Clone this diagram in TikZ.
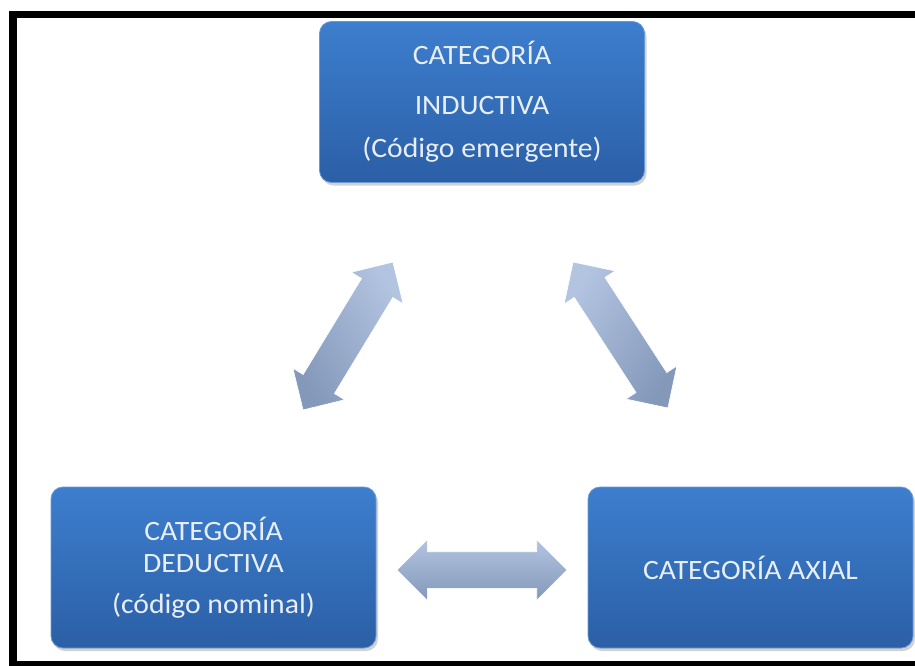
\documentclass[tikz,border=0pt]{standalone}
\usepackage{fontspec}
\setmainfont{Carlito}[FakeStretch=1.06]
\usetikzlibrary{shapes.arrows,shadows,calc}

\definecolor{boxtop}{HTML}{3D7ECE}
\definecolor{boxbot}{HTML}{2B5FA6}
\definecolor{boxedge}{HTML}{6A9AD6}
\definecolor{boxtext}{HTML}{E8EEF6}
\definecolor{arrtop}{HTML}{B2C4E0}
\definecolor{arrbot}{HTML}{8498BA}

\tikzset{
  catbox/.style={rounded corners=12pt, top color=boxtop, bottom color=boxbot,
    draw=boxedge, line width=0.8pt, text=boxtext, align=center,
    minimum width=325pt, minimum height=161pt, inner sep=0pt,
    font=\fontsize{28}{34}\selectfont,
    drop shadow={shadow xshift=2pt, shadow yshift=-3pt, opacity=0.35}},
  blockarrow/.style={double arrow, double arrow head extend=12pt,
    inner xsep=0pt, inner ysep=18pt, minimum width=60pt,
    top color=arrtop, bottom color=arrbot, draw=white, line width=0.6pt},
  framebar/.style={fill=black, draw=none}
}

\begin{document}
\begin{tikzpicture}[x=1pt, y=-1pt]
\useasboundingbox (0,0) rectangle (915,666);
\fill[white] (0,0) rectangle (915,666);

% outer frame (left, top and bottom bars)
\path[framebar] (9,11) rectangle (915,18.5);
\path[framebar] (9,11) rectangle (16.5,666);
\path[framebar] (9,661) rectangle (915,666);

% category boxes
\node[catbox] (ind) at (482,102)
  {CATEGORÍA\\[16pt]INDUCTIVA\\[9pt](Código emergente)};
\node[catbox] (ded) at (213.5,567.5)
  {CATEGORÍA\\[-2pt]DEDUCTIVA\\[7pt](código nominal)};
\node[catbox] (axi) at (750.5,567.5) {CATEGORÍA AXIAL};

% end points of the block arrows
\coordinate (l1) at (303,410);
\coordinate (l2) at (393,262);
\coordinate (r1) at (573,262);
\coordinate (r2) at (668,408);
\coordinate (h1) at (397,570);
\coordinate (h2) at (567,570);

% two-headed block arrows, shaded light at the top, dark at the bottom
\node[blockarrow, minimum height=173pt, rotate=58.7, shading angle=-58.7] (aleft)
  at ($(l1)!0.5!(l2)$) {};
\node[blockarrow, minimum height=174pt, rotate=-57, shading angle=57] (aright)
  at ($(r1)!0.5!(r2)$) {};
\node[blockarrow, minimum height=170pt] (abottom)
  at ($(h1)!0.5!(h2)$) {};
\end{tikzpicture}
\end{document}
